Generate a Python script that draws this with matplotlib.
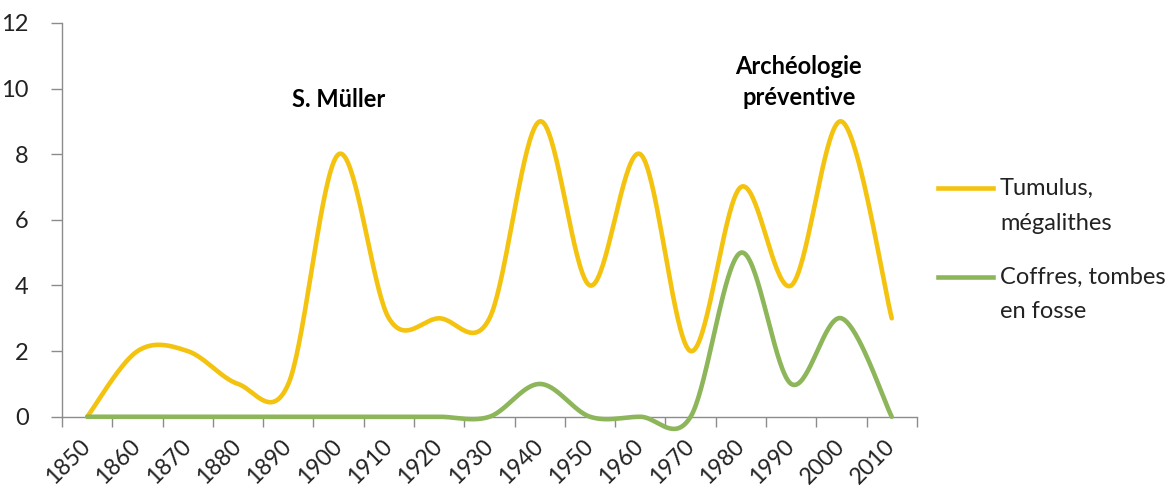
import matplotlib
matplotlib.use("Agg")
import matplotlib.pyplot as plt
import numpy as np
from matplotlib.lines import Line2D

plt.rcParams['font.family'] = ['Lato', 'DejaVu Sans']

years = ['1850', '1860', '1870', '1880', '1890', '1900', '1910', '1920', '1930',
         '1940', '1950', '1960', '1970', '1980', '1990', '2000', '2010']
tumulus = [0, 2, 2, 1, 1, 8, 3, 3, 3, 9, 4, 8, 2, 7, 4, 9, 3]
coffres = [0, 0, 0, 0, 0, 0, 0, 0, 0, 1, 0, 0, 0, 5, 1, 3, 0]
series_names = ['Tumulus,\nmégalithes', 'Coffres, tombes\nen fosse']
colors = ['#F4C30F', '#8DB65A']


# Excel-like smoothed line (Catmull-Rom as cubic Bezier segments)
def smooth(xs, ys, n=40):
        xs = np.asarray(xs, float)
        ys = np.asarray(ys, float)
        px = np.concatenate([[xs[0]], xs, [xs[-1]]])
        py = np.concatenate([[ys[0]], ys, [ys[-1]]])
        outx, outy = [], []
        t = np.linspace(0, 1, n)
        for i in range(1, len(px) - 2):
                p0 = np.array([px[i], py[i]])
                p3 = np.array([px[i + 1], py[i + 1]])
                c1 = p0 + (p3 - np.array([px[i - 1], py[i - 1]])) / 6
                c2 = p3 - (np.array([px[i + 2], py[i + 2]]) - p0) / 6
                b = ((1 - t) ** 3)[:, None] * p0 + (3 * (1 - t) ** 2 * t)[:, None] * c1 \
                    + (3 * (1 - t) * t ** 2)[:, None] * c2 + (t ** 3)[:, None] * p3
                outx.extend(b[:, 0])
                outy.extend(b[:, 1])
        return np.array(outx), np.array(outy)


fig = plt.figure(figsize=(11.71, 4.88), dpi=100)
ax = fig.add_axes([0.053, 0.146, 0.73, 0.807])

x = np.arange(len(years))
for vals, c in zip([tumulus, coffres], colors):
        sx, sy = smooth(x, vals)
        ax.plot(sx, sy, color=c, lw=3.3, solid_capstyle='round', clip_on=False, zorder=3)

ax.set_xlim(-0.5, len(years) - 0.5)
ax.set_ylim(0, 12)
ax.set_yticks(range(0, 13, 2))

ax.set_xticks(x)
ax.set_xticklabels(years, rotation=45, ha='right', va='center', rotation_mode='anchor')
ax.set_xticks(np.arange(-0.5, len(years)), minor=True)
ax.tick_params(axis='x', which='major', length=0, pad=19, labelsize=16.5, colors='#222222')
ax.tick_params(axis='x', which='minor', length=7, width=1, color='#8c8c8c')
ax.tick_params(axis='y', length=8, width=1, color='#8c8c8c', pad=16, labelsize=17, labelcolor='#222222')

for s in ['top', 'right']:
        ax.spines[s].set_visible(False)
for s in ['left', 'bottom']:
        ax.spines[s].set_color('#8c8c8c')
        ax.spines[s].set_linewidth(1)

ax.text(5, 9.66, 'S. Müller', ha='center', va='center', fontsize=17, fontweight='bold')
ax.text(14.15, 10.2, 'Archéologie\npréventive', ha='center', va='center',
        fontsize=17, fontweight='bold', linespacing=1.45)

# legend drawn by hand so the line sits at the first text line
for i, (name, c) in enumerate(zip(series_names, colors)):
        yl = 1 - (188 + i * 89) / 488
        fig.add_artist(Line2D([938 / 1171, 993 / 1171], [yl, yl], color=c, lw=3.3,
                              transform=fig.transFigure))
        for j, ln in enumerate(name.split('\n')):
                fig.text(1000 / 1171, yl - j * 35 / 488, ln, ha='left', va='center',
                         fontsize=17, color='#222222')

fig.savefig('out.png', dpi=100)
